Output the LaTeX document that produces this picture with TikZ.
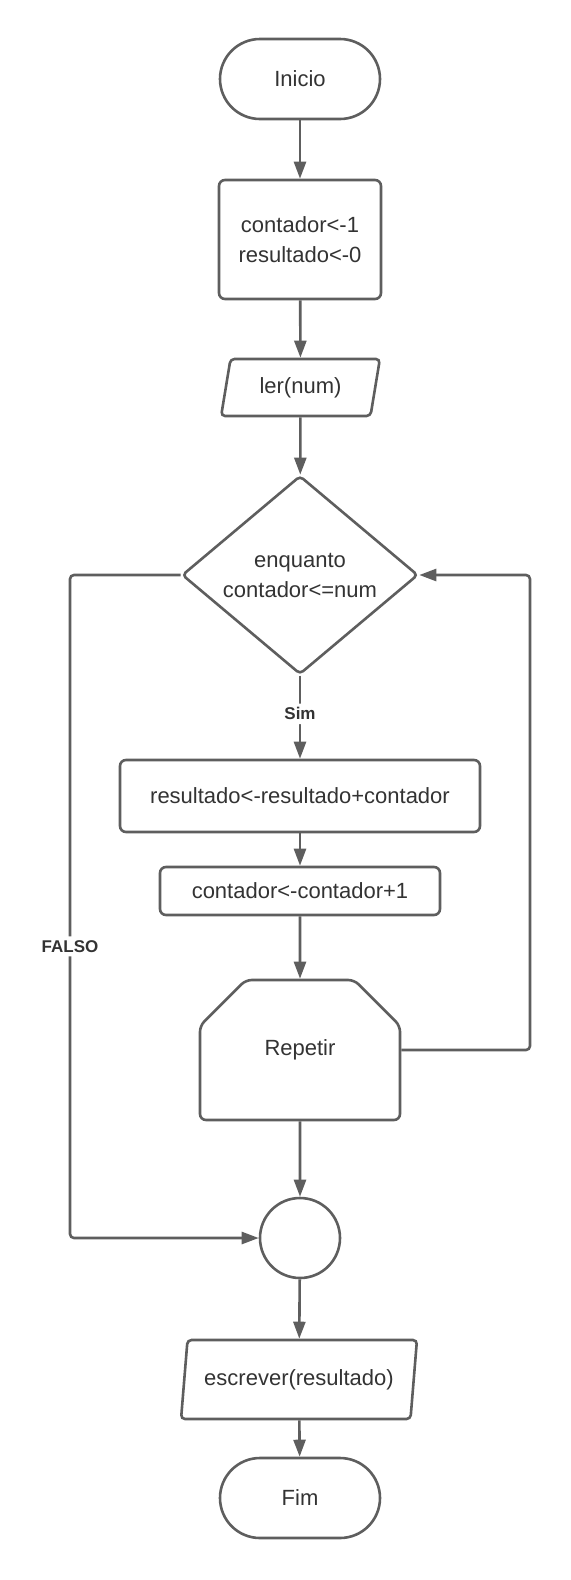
\documentclass[tikz,border=0pt]{standalone}
\usepackage{fontspec}
\setmainfont{Liberation Sans}
\usepackage{tikz}
\usetikzlibrary{shapes.geometric,shapes.misc,arrows.meta}
\definecolor{linegray}{HTML}{5E5E5E}
\definecolor{textgray}{HTML}{333333}
\tikzset{
    base/.style={draw=linegray, line width=1.3pt, fill=white, text=textgray,
        font=\fontsize{11}{15}\selectfont, align=center, inner sep=0pt},
    terminal/.style={base, rectangle, rounded corners=20pt, minimum width=80pt, minimum height=40pt},
    process/.style={base, rectangle, rounded corners=3pt},
    io/.style={base, trapezium, trapezium left angle=75, trapezium right angle=105,
        trapezium stretches=true, rounded corners=2pt},
    decision/.style={base, diamond, minimum width=118pt, minimum height=98pt, rounded corners=2pt},
    loopend/.style={base, chamfered rectangle, chamfered rectangle corners={north west,north east},
        chamfered rectangle xsep=25pt, chamfered rectangle ysep=20pt, rounded corners=3pt,
        minimum width=100pt, minimum height=70pt},
    joint/.style={base, circle, minimum size=40pt},
    flow/.style={draw=linegray, line width=1.3pt, rounded corners=2pt,
        -{Triangle[length=8.5pt,width=6pt]}},
    branch/.style={fill=white, text=textgray, font=\fontsize{8.5}{10}\selectfont\bfseries, inner sep=2pt}
}

\begin{document}
\begin{tikzpicture}[x=0.5pt, y=-0.5pt]
    \useasboundingbox (0,0) rectangle (570,1580);
        \node[terminal] (inicio) at (300,79) {Inicio};
        \node[process, minimum width=81pt, minimum height=59.5pt] (init) at (300,239.5) {contador<-1\\resultado<-0};
        \node[io, minimum width=79.5pt, minimum height=28.5pt] (ler) at (300.5,387.5) {ler(num)};
        \node[decision] (enq) at (300,575) {enquanto\\contador<=num};
        \node[process, minimum width=180pt, minimum height=36pt] (soma) at (300,796) {resultado<-resultado+contador};
        \node[process, minimum width=140pt, minimum height=24pt] (incr) at (300,891) {contador<-contador+1};
        \node[loopend] (rep) at (300,1050) {Repetir};
        \node[joint] (junta) at (300,1238) {};
        \node[io, minimum width=119pt, minimum height=39.5pt] (escr) at (299,1379.5) {escrever(resultado)};
        \node[terminal] (fim) at (300,1498) {Fim};
        \coordinate (voltaX) at (530,0);
        \coordinate (falsoX) at (70,0);
    % 	main line
        \draw[flow] (inicio) -- (init);
        \draw[flow] (init) -- (ler);
        \draw[flow] (ler) -- (enq);
        \draw[flow] (enq) -- node[branch, pos=0.46] {Sim} (soma);
        \draw[flow] (soma) -- (incr);
        \draw[flow] (incr) -- (rep);
        \draw[flow] (rep) -- (junta);
        \draw[flow] (junta) -- (escr);
        \draw[flow] (escr) -- (fim);
        \draw[flow] (rep.east) -- (rep.east -| voltaX) -- (enq.east -| voltaX) -- (enq.east);
        \draw[flow] (enq.west) -- (enq.west -| falsoX) -- node[branch, pos=0.56] {FALSO} (junta.west -| falsoX) -- (junta.west);
    \end{tikzpicture}
\end{document}
